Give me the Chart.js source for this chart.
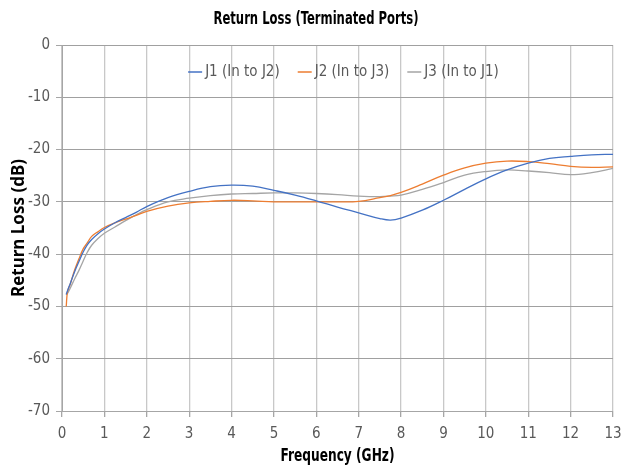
<!DOCTYPE html>
<html>
<head>
<meta charset="utf-8">
<script src="https://cdn.jsdelivr.net/npm/chart.js@4"></script>
<style>
  html, body { margin: 0; padding: 0; background: #fff; }
  #wrap { position: relative; width: 632px; height: 471px; }
</style>
</head>
<body>
<div id="wrap"><canvas id="rlChart" width="632" height="471"></canvas></div>
<script>
const freqs = [0.1, 0.13, 0.2, 0.3, 0.4, 0.5, 0.6, 0.7, 0.85, 1, 1.25, 1.5, 1.75, 2, 2.5, 3, 3.5, 4, 4.5, 5, 5.5, 6, 6.5, 7, 7.5, 7.75, 8, 8.5, 9, 9.5, 10, 10.5, 11, 11.5, 12, 12.5, 13];
const j1 = [-47.7, -47.0, -45.5, -43.3, -41.4, -39.6, -38.2, -37.2, -36.1, -35.2, -34.0, -33.0, -32.0, -30.9, -29.2, -28.0, -27.1, -26.8, -27.0, -27.8, -28.7, -29.8, -31.0, -32.1, -33.2, -33.5, -33.1, -31.6, -29.7, -27.6, -25.6, -23.9, -22.6, -21.7, -21.3, -21.0, -20.9];
const j2 = [-50.0, -47.2, -45.6, -43.0, -40.9, -39.0, -37.8, -36.6, -35.7, -34.9, -34.0, -33.3, -32.6, -31.8, -30.8, -30.2, -29.9, -29.7, -29.8, -30.0, -30.0, -30.0, -30.0, -29.9, -29.2, -28.8, -28.2, -26.6, -24.9, -23.5, -22.6, -22.2, -22.3, -22.7, -23.2, -23.4, -23.3];
const j3 = [-47.8, -47.5, -46.4, -44.7, -43.1, -41.3, -39.6, -38.3, -37.0, -36.0, -34.8, -33.6, -32.5, -31.5, -30.0, -29.3, -28.8, -28.5, -28.4, -28.3, -28.3, -28.4, -28.6, -28.9, -29.0, -28.9, -28.7, -27.6, -26.3, -24.9, -24.2, -23.9, -24.1, -24.4, -24.8, -24.4, -23.6];
const seriesNames = ['J1 (In to J2)', 'J2 (In to J3)', 'J3 (In to J1)'];
const seriesColors = ['#4472C4', '#ED7D31', '#A5A5A5'];
const chartTitle = 'Return Loss (Terminated Ports)';
const xTitle = 'Frequency (GHz)';

const narrow = "'Liberation Sans Narrow', 'DejaVu Sans Condensed', 'Roboto', sans-serif";

function pts(vals) {
    return vals.map((v, i) => ({ x: freqs[i], y: v }));
}

// condensed bold text: draw at a bigger size, then squeeze to the wanted width
function squeezedText(c, text, cx, cy, size, maxW) {
    c.save();
    c.font = 'bold ' + size + 'px ' + narrow;
    c.textAlign = 'center';
    c.textBaseline = 'middle';
    c.fillStyle = '#000';
    const sx = Math.min(1, maxW / c.measureText(text).width);
    c.translate(cx, cy);
    c.scale(sx, 1);
    c.fillText(text, 0, 0);
    c.restore();
}

const titles = {
    id: 'titles',
    afterDraw(chart) {
        const a = chart.chartArea;
        squeezedText(chart.ctx, chartTitle, chart.width / 2, 19, 18, 205);
        squeezedText(chart.ctx, xTitle, (a.left + a.right) / 2, 457, 17, 114);
    }
};

// legend drawn inside the plot, in one centred row near the top
const innerLegend = {
    id: 'innerLegend',
    afterDatasetsDraw(chart) {
        const c = chart.ctx;
        const area = chart.chartArea;
        const lineLen = 14, gap = 3, spacing = 18;
        c.save();
        c.font = '15px ' + narrow;
        c.textBaseline = 'middle';
        const items = chart.data.datasets.map(ds => ({ ds, w: lineLen + gap + c.measureText(ds.label).width }));
        const total = items.reduce((s, it) => s + it.w, 0) + spacing * (items.length - 1);
        let x = (area.left + area.right) / 2 - total / 2 + 6;
        const y = area.top + 27;
        items.forEach(it => {
            c.strokeStyle = it.ds.borderColor;
            c.lineWidth = 1.5;
            c.beginPath();
            c.moveTo(x, y);
            c.lineTo(x + lineLen, y);
            c.stroke();
            c.fillStyle = '#595959';
            c.fillText(it.ds.label, x + lineLen + gap, y);
            x += it.w + spacing;
        });
        c.restore();
    }
};

const ctx = document.getElementById('rlChart').getContext('2d');
new Chart(ctx, {
    type: 'line',
    data: {
        datasets: [j1, j2, j3].map((vals, i) => ({
            label: seriesNames[i],
            data: pts(vals),
            borderColor: seriesColors[i],
            backgroundColor: seriesColors[i],
            borderWidth: 1.3,
            pointRadius: 0,
            fill: false,
            tension: 0.4
        }))
    },
    options: {
        responsive: false,
        animation: false,
        layout: { padding: { left: 0, right: 19, top: 45, bottom: 0 } },
        scales: {
            x: {
                type: 'linear',
                min: 0, max: 13,
                ticks: { stepSize: 1, color: '#595959', font: { family: narrow, size: 15 }, padding: 8 },
                grid: { color: '#c8c8c8', lineWidth: 1.3, tickLength: 6, tickColor: '#a6a6a6' },
                border: { color: '#a6a6a6' },
                title: { display: false },
                afterFit: s => { s.height = 60; }
            },
            y: {
                min: -70, max: 0,
                ticks: { stepSize: 10, color: '#595959', font: { family: narrow, size: 15 }, padding: 6 },
                grid: { color: '#a0a0a0', lineWidth: 1, tickLength: 6, tickColor: '#a6a6a6' },
                border: { color: '#a6a6a6' },
                title: { display: true, text: 'Return Loss (dB)', color: '#000', font: { family: "'Noto Sans', sans-serif", size: 17, weight: 'bold' }, padding: { top: 9, bottom: 0 } },
                afterFit: s => { s.width = 62; }
            }
        },
        plugins: {
            title: { display: false },
            legend: { display: false },
            tooltip: { enabled: false }
        }
    },
    plugins: [innerLegend, titles]
});
</script>
</body>
</html>
